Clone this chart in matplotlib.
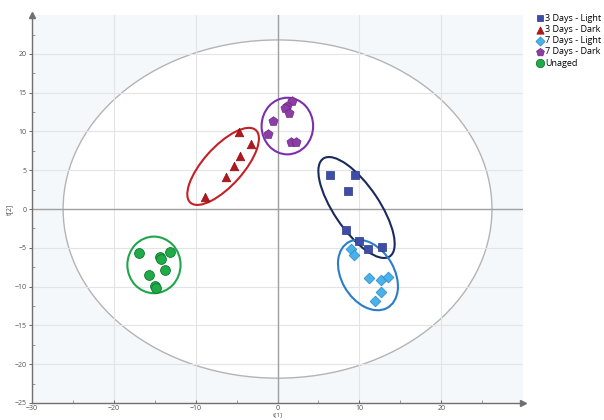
import numpy as np
import matplotlib.pyplot as plt
from matplotlib.patches import Ellipse

# score values t[1], t[2]
light3_x = [6.4, 9.5, 8.6, 8.4, 10.0, 11.1, 12.8]
light3_y = [4.4, 4.4, 2.3, -2.7, -4.1, -5.1, -4.9]
dark3_x = [-4.7, -3.2, -4.6, -5.3, -6.3, -8.9]
dark3_y = [9.9, 8.4, 6.8, 5.6, 4.1, 1.5]
light7_x = [9.0, 9.3, 11.2, 12.7, 13.5, 12.6, 11.9]
light7_y = [-5.2, -5.9, -8.9, -9.1, -8.8, -10.7, -11.9]
dark7_x = [1.8, 1.1, 0.9, 1.4, -0.5, -1.2, 1.6, 2.3]
dark7_y = [13.9, 13.3, 13.0, 12.4, 11.4, 9.7, 8.6, 8.6]
unaged_x = [-16.9, -14.4, -14.2, -13.2, -13.7, -15.7, -15.0, -14.8]
unaged_y = [-5.7, -6.2, -6.4, -5.6, -7.9, -8.5, -9.9, -10.2]

labels = ['3 Days - Light', '3 Days - Dark', '7 Days - Light',
          '7 Days - Dark', 'Unaged']

# group ellipses: centre, width, height, angle
groups = [
    ((9.65, 0.2), 15.0, 5.6, -57.6, '#1b2a5c'),
    ((-6.65, 5.5), 12.3, 4.9, 50.0, '#c42026'),
    ((11.05, -8.5), 9.7, 6.5, -62.0, '#2a7cc8'),
    ((1.2, 10.7), 6.3, 7.3, 0.0, '#7b2fae'),
    ((-15.1, -7.2), 6.5, 7.3, 0.0, '#1fa64a'),
]

plt.rcParams['font.family'] = ['Open Sans', 'DejaVu Sans']

fig = plt.figure(figsize=(6.04, 4.2), dpi=100)
ax = fig.add_axes([0.053, 0.0405, 0.813, 0.9235])
ax.set_facecolor('#f5f8fb')
ax.set_xlim(-30, 30)
ax.set_ylim(-25, 25)

# Hotelling T2 ellipse
ax.add_patch(Ellipse((0, 0), 52.4, 43.6, facecolor='white',
                     edgecolor='#b4b4b4', linewidth=1.0, zorder=0.1))

ax.set_xticks([-30, -20, -10, 0, 10, 20])
ax.set_yticks(np.arange(-25, 21, 5))
ax.set_xticks(np.arange(-25, 26, 10), minor=True)
ax.set_yticks(np.arange(-22.5, 25, 2.5), minor=True)
ax.set_axisbelow(True)
ax.grid(True, color='#e2e4e8', linewidth=0.8)
ax.axhline(0, color='#a0a0a0', linewidth=1.0, zorder=0.6)
ax.axvline(0, color='#a0a0a0', linewidth=1.0, zorder=0.6)

for (c, w, h, a, col) in groups:
    ax.add_patch(Ellipse(c, w, h, angle=a, fill=False, edgecolor=col,
                         linewidth=1.5, zorder=2))

ax.scatter(light3_x, light3_y, marker='s', s=34, color='#3e4ea6',
           edgecolors='#2c3a8a', linewidths=0.5, zorder=3, label=labels[0])
ax.scatter(dark3_x, dark3_y, marker='^', s=38, color='#b2181e',
           edgecolors='#8a1015', linewidths=0.5, zorder=3, label=labels[1])
ax.scatter(light7_x, light7_y, marker='D', s=30, color='#48b2ea',
           edgecolors='#2a86c6', linewidths=0.5, zorder=3, label=labels[2])
ax.scatter(dark7_x, dark7_y, marker='p', s=48, color='#8e3ca6',
           edgecolors='#6a2a80', linewidths=0.5, zorder=3, label=labels[3])
ax.scatter(unaged_x, unaged_y, marker='o', s=50, color='#1fab48',
           edgecolors='#0f7a30', linewidths=0.6, zorder=3, label=labels[4])

for side in ['top', 'right']:
    ax.spines[side].set_visible(False)
for side in ['left', 'bottom']:
    ax.spines[side].set_color('#707070')
    ax.spines[side].set_linewidth(1.0)
ax.plot(1, 0, '>', color='#707070', ms=5, transform=ax.transAxes, clip_on=False)
ax.plot(0, 1, '^', color='#707070', ms=5, transform=ax.transAxes, clip_on=False)

ax.tick_params(axis='both', which='major', labelsize=5, colors='#505050',
               length=2.5, width=0.6, pad=1.5)
ax.tick_params(axis='x', which='major', direction='in', pad=1.2)
ax.tick_params(axis='both', which='minor', length=2, width=0.5,
               colors='#707070', direction='in')
ax.set_ylabel('t[2]', fontsize=5, color='#505050', labelpad=1)
ax.set_xlabel('t[1]', fontsize=4.5, color='#505050', va='top')
ax.xaxis.set_label_coords(0.5, -0.023)

ax.legend(loc='upper left', bbox_to_anchor=(1.012, 1.02), frameon=False,
          fontsize=6.5, handletextpad=0.1, labelspacing=0.25, borderpad=0.2,
          handlelength=1.0, markerscale=0.85)

fig.savefig('out.png', dpi=100)
